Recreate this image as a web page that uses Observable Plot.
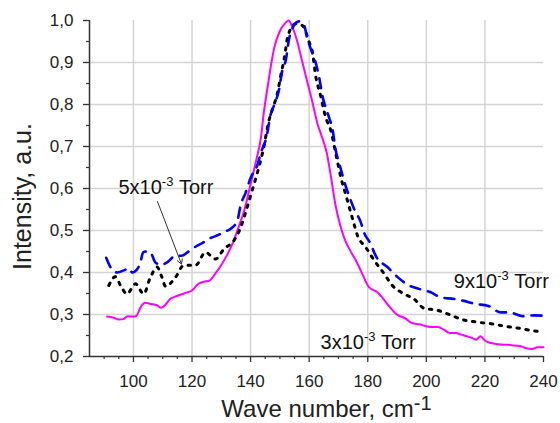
<!DOCTYPE html>
<html><head><meta charset="utf-8">
<script src="https://cdn.jsdelivr.net/npm/d3@7"></script>
<script src="https://cdn.jsdelivr.net/npm/@observablehq/plot@0.6"></script>
<style>
html,body{margin:0;padding:0;background:#fff;}
#chart svg{display:block;font-family:"Liberation Sans",Arial,sans-serif;}
</style></head><body><div id="chart"></div>
<script>
// 3x10^-3 Torr (magenta, solid)
const wave3 = [91,93,95,96.5,98,100,101,102.5,104,106,108,109.5,111,112.5,114,116,118,120,122,124,126,128,130,132,134,136,138,140,142,143.5,144.5,146,147,148,150,152,153,154.3,156,157.7,159.4,161.1,162.8,164,166,167.5,169,170.5,172,174,176,177.6,180.4,183.3,185,186.7,189.6,193,195,198,200,202,204,206,208,210,212,214,216,217,218.5,220,222,224,226,228,230,232,234,236,238,240];
const int3 = [0.295,0.293,0.288,0.289,0.296,0.295,0.297,0.318,0.328,0.325,0.322,0.316,0.324,0.337,0.342,0.347,0.352,0.357,0.372,0.378,0.381,0.398,0.418,0.442,0.472,0.51,0.552,0.61,0.67,0.72,0.78,0.85,0.895,0.933,0.975,0.995,1.0,0.984,0.948,0.9,0.853,0.806,0.755,0.73,0.685,0.625,0.56,0.515,0.482,0.452,0.428,0.405,0.365,0.353,0.34,0.325,0.302,0.29,0.28,0.276,0.272,0.27,0.27,0.264,0.256,0.256,0.252,0.248,0.243,0.24,0.248,0.238,0.232,0.23,0.228,0.228,0.226,0.225,0.22,0.218,0.222,0.222];
// 5x10^-3 Torr (black, dotted)
const wave5 = [91.6,93.8,95.6,97.8,100.7,103.5,105.6,108.1,109.5,111,114.4,117.2,121.2,124.6,128,130.9,134.3,136.3,138.6,140.3,142,143,144.4,146.2,147.5,149.1,150.3,151.5,152.8,155.4,157.7,160,161.1,162.2,163.9,165.6,167.4,169.1,170.8,172.5,174.8,176.5,179.3,182.2,185.6,188.4,192.4,195.8,199.2,203.8,207.8,212.2,217.2,222.1,227,231.8,236.8,240];
const int5 = [0.369,0.39,0.369,0.349,0.373,0.349,0.385,0.413,0.393,0.367,0.389,0.417,0.417,0.448,0.432,0.456,0.476,0.502,0.55,0.59,0.63,0.655,0.695,0.76,0.79,0.825,0.869,0.91,0.965,0.992,0.988,0.948,0.925,0.869,0.821,0.77,0.738,0.683,0.627,0.585,0.528,0.488,0.46,0.429,0.397,0.369,0.349,0.337,0.315,0.31,0.30,0.288,0.282,0.278,0.272,0.267,0.261,0.258];
// 9x10^-3 Torr (blue, dashed)
const wave9 = [90.7,92.4,94.5,96.7,98.5,99.6,101.5,102.4,103.3,104.5,105.8,107.5,109.5,111.5,114.4,116.5,118.4,121.8,123.5,125.7,129.2,131,133.2,135.5,136.6,138.3,140,141.1,142.3,143.4,145.5,146.8,148,149.7,150.8,152,153.1,154.5,156.5,158.2,159.4,160.5,162.2,163.4,164.5,165.6,166.8,168,169.1,170.3,172.5,174,175.3,177.6,178.7,181,182.7,186.7,190.2,194.1,197.5,201.5,204.9,209.5,212.4,216.9,220.9,225.5,228.3,232.9,236.9,240];
const int9 = [0.435,0.41,0.40,0.405,0.41,0.40,0.41,0.424,0.448,0.45,0.448,0.424,0.418,0.424,0.44,0.44,0.448,0.464,0.47,0.48,0.49,0.497,0.504,0.524,0.56,0.59,0.625,0.64,0.655,0.683,0.725,0.775,0.798,0.835,0.88,0.905,0.955,0.985,0.998,0.99,0.956,0.933,0.9,0.865,0.821,0.793,0.769,0.74,0.69,0.659,0.605,0.575,0.552,0.52,0.496,0.468,0.44,0.413,0.389,0.369,0.361,0.353,0.341,0.337,0.333,0.325,0.321,0.305,0.305,0.296,0.298,0.297];

// axes / ticks
const xDomain = [85, 240];
const yDomain = [0.2, 1.0];
const xMajor = [100,120,140,160,180,200,220,240];
const xMinor = [90,95,105,110,115,125,130,135,145,150,155,165,170,175,185,190,195,205,210,215,225,230,235];
const xGrid = [100,120,140,160,180,200,220];
const yMajor = [0.2,0.3,0.4,0.5,0.6,0.7,0.8,0.9,1.0];
const yMinor = [0.25,0.35,0.45,0.55,0.65,0.75,0.85,0.95];
const yGrid = [0.3,0.4,0.5,0.6,0.7,0.8,0.9];

// annotations
const annLabels = ["5x10^-3 Torr", "9x10^-3 Torr", "3x10^-3 Torr"];
const annX = [94.9, 209.4, 163.9];
const annY = [0.603, 0.3795, 0.234];
const arrowFrom = [108.2, 0.569];
const arrowTo = [116.4, 0.42];

const xTitle = "Wave number, cm^-1";
const yTitle = "Intensity, a.u.";

const toRows = (w, v) => w.map((x, i) => ({x, y: v[i]}));
const s3 = toRows(wave3, int3), s5 = toRows(wave5, int5), s9 = toRows(wave9, int9);
const ann = annLabels.map((label, i) => ({label, x: annX[i], y: annY[i]}));
const comma = d => d.toFixed(1).replace(".", ",");

const svg = Plot.plot({
  width: 560, height: 423,
  marginLeft: 89, marginRight: 17, marginTop: 20, marginBottom: 67,
  style: {fontFamily: "'Liberation Sans', Arial, sans-serif", background: "white", color: "#222"},
  x: {domain: xDomain},
  y: {domain: yDomain},
  marks: [
    Plot.gridX(xGrid, {stroke: "#d4d4d4", strokeOpacity: 1, strokeWidth: 1.5}),
    Plot.gridY(yGrid, {stroke: "#d4d4d4", strokeOpacity: 1, strokeWidth: 1.5}),
    Plot.line(s3, {x: "x", y: "y", stroke: "#ff00ff", strokeWidth: 2, curve: "monotone-x"}),
    Plot.line(s5, {x: "x", y: "y", stroke: "#000", strokeWidth: 3, strokeDasharray: "2.5,6.5", curve: "monotone-x"}),
    Plot.line(s9, {x: "x", y: "y", stroke: "#0000ff", strokeWidth: 2.6, strokeDasharray: "10,8", curve: "monotone-x"}),
    Plot.arrow([{x1: arrowFrom[0], y1: arrowFrom[1], x2: arrowTo[0], y2: arrowTo[1]}],
      {x1: "x1", y1: "y1", x2: "x2", y2: "y2", stroke: "#333", strokeWidth: 1, headLength: 8}),
    Plot.text(ann, {x: "x", y: "y", text: "label", textAnchor: "start", fontSize: 20, fill: "#111"}),
    Plot.ruleY([yDomain[0]], {stroke: "#333", strokeWidth: 1.5}),
    Plot.ruleX([xDomain[0]], {stroke: "#333", strokeWidth: 1.5}),
    Plot.axisX(xMajor, {tickSize: 6, tickPadding: 12, fontSize: 17, label: null, stroke: "#333", strokeWidth: 1.3, fill: "#222", tickFormat: d => String(d)}),
    Plot.axisX(xMinor, {tickSize: 3, label: null, stroke: "#333", strokeWidth: 1.2, tickFormat: () => ""}),
    Plot.axisY(yMajor, {tickSize: 6, tickPadding: 10, fontSize: 17, label: null, stroke: "#333", strokeWidth: 1.3, fill: "#222", tickFormat: comma}),
    Plot.axisY(yMinor, {tickSize: 3, label: null, stroke: "#333", strokeWidth: 1.2, tickFormat: () => ""}),
    Plot.text([yTitle], {frameAnchor: "left", textAnchor: "middle", lineAnchor: "middle", dx: -67, dy: 8, rotate: -90, fontSize: 25, fill: "#222"}),
    Plot.text([xTitle], {frameAnchor: "bottom", textAnchor: "middle", lineAnchor: "middle", dx: 10, dy: 53, fontSize: 24, fill: "#222"})
  ]
});

function supify(node, supSize, raise) {
  const [pre, rest] = node.textContent.split("^");
  const m = rest.match(/^(\S+)(.*)$/);
  const sel = d3.select(node);
  sel.text(null);
  sel.append("tspan").text(pre);
  sel.append("tspan").attr("dy", -raise).attr("font-size", supSize).text(m[1]);
  if (m[2]) sel.append("tspan").attr("dy", raise).text(m[2].replace(/^ /, "\u00a0"));
}
d3.select(svg).selectAll("text").each(function() {
  const t = this.textContent;
  if (!t.includes("^")) return;
  if (t.startsWith("Wave")) supify(this, 20, 7);
  else supify(this, 13, 8);
});
document.getElementById("chart").appendChild(svg);
</script></body></html>
